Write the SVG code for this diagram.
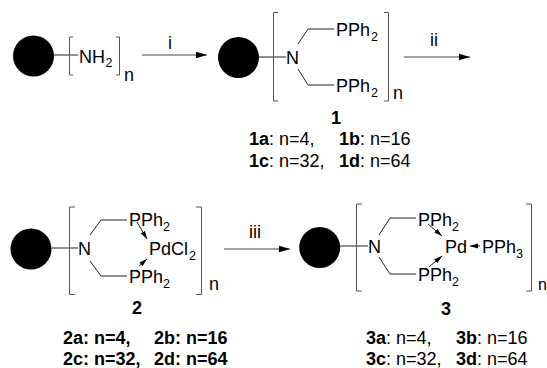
<svg xmlns="http://www.w3.org/2000/svg" width="547" height="368" viewBox="0 0 547 368">
<style>
text{font-family:"Liberation Sans",Arial,sans-serif;font-size:18px;fill:#000}
.s{font-size:12.5px}
.b{font-weight:bold}
.c{fill:#000}
.bk{fill:none;stroke:#555;stroke-width:1}
.bd{fill:none;stroke:#222;stroke-width:1}
.ar{stroke:#444;stroke-width:1.2;fill:none;marker-end:url(#h)}
.da{stroke:#222;stroke-width:1;fill:none;marker-end:url(#d)}
</style>
<defs>
<marker id="h" markerUnits="userSpaceOnUse" markerWidth="12" markerHeight="8" refX="11" refY="4" orient="auto"><path d="M0 0.8L11 4L0 7.2Z" fill="#000"/></marker>
<marker id="d" markerUnits="userSpaceOnUse" markerWidth="9" markerHeight="6" refX="8" refY="3" orient="auto"><path d="M0 0.6L8 3L0 5.4Z" fill="#000"/></marker>
</defs>
<g id="connectors">
<path class="ar" d="M142 55H207"/>
<path class="ar" d="M404 57H470"/>
<path class="ar" d="M224 249H290"/>
</g>
<g id="amine">
<circle class="c" cx="33.5" cy="56" r="20.5"/>
<path class="bd" d="M54 55H78"/>
<path class="bk" d="M73 37H69.5V75H73M116 37H119.5V75H116"/>
<text x="79" y="63">NH</text><text class="s" x="105.500" y="66.500">2</text><text x="124" y="81">n</text>
<text x="168" y="49">i</text>
</g>
<g id="compound-1">
<circle class="c" cx="238.500" cy="57.500" r="20.5"/>
<path class="bd" d="M259 57H286"/>
<path class="bk" d="M278 12.500H273.500V101H278M384 12.500H388.500V101H384"/>
<text x="286" y="64">N</text>
<path class="bd" d="M298 44L308 29H334M298 69L308 85H334"/>
<text x="336" y="36">PPh</text><text class="s" x="371" y="41">2</text>
<text x="336" y="92">PPh</text><text class="s" x="371" y="97">2</text>
<text x="393" y="99">n</text>
<text x="430" y="46">ii</text>
<text class="b" x="331" y="124">1</text>
<text x="249" y="145"><tspan class="b">1a</tspan>: n=4,</text>
<text x="339" y="145"><tspan class="b">1b</tspan>: n=16</text>
<text x="249" y="167"><tspan class="b">1c</tspan>: n=32,</text>
<text x="339" y="167"><tspan class="b">1d</tspan>: n=64</text>
</g>
<g id="compound-2">
<circle class="c" cx="31" cy="249" r="20.5"/>
<path class="bd" d="M52 248H78"/>
<path class="bk" d="M75 207H69.500V294.500H75M196 207H201.500V294.500H196"/>
<text x="78" y="255">N</text>
<path class="bd" d="M90 235L101 220H127M90 261L101 276H127"/>
<text x="129" y="226">PPh</text><text class="s" x="163" y="231">2</text>
<text x="129" y="283">PPh</text><text class="s" x="163" y="288">2</text>
<text x="149" y="255">PdCl</text><text class="s" x="189" y="260">2</text>
<path class="da" d="M137 222L147 239"/>
<path class="da" d="M139 266L147 259"/>
<text x="209" y="290">n</text>
<text x="249" y="238">iii</text>
<text class="b" x="132" y="314">2</text>
<text class="b" x="63" y="344">2a: n=4,</text>
<text class="b" x="154" y="344">2b: n=16</text>
<text class="b" x="63" y="364.500">2c: n=32,</text>
<text class="b" x="154" y="364.500">2d: n=64</text>
</g>
<g id="compound-3">
<circle class="c" cx="319.700" cy="247.500" r="20.5"/>
<path class="bd" d="M340 246H368"/>
<path class="bk" d="M362 204H356.500V291H362M526 204H531.500V291H526"/>
<text x="368" y="253">N</text>
<path class="bd" d="M379 235L390 218H416M379 257L390 274H416"/>
<text x="418" y="226">PPh</text><text class="s" x="452" y="231">2</text>
<text x="418" y="281">PPh</text><text class="s" x="452" y="286">2</text>
<text x="445" y="253">Pd</text>
<text x="482" y="253">PPh</text><text class="s" x="516" y="258">3</text>
<path class="da" d="M428 224L442 236"/>
<path class="da" d="M429 267L442 256"/>
<path class="da" d="M480 246H470"/>
<text x="538" y="290" style="font-size:16px">n</text>
<text class="b" x="441" y="315">3</text>
<text x="366" y="344"><tspan class="b">3a</tspan>: n=4,</text>
<text x="456" y="344"><tspan class="b">3b</tspan>: n=16</text>
<text x="366" y="364.500"><tspan class="b">3c</tspan>: n=32,</text>
<text x="456" y="364.500"><tspan class="b">3d</tspan>: n=64</text>
</g>
</svg>
